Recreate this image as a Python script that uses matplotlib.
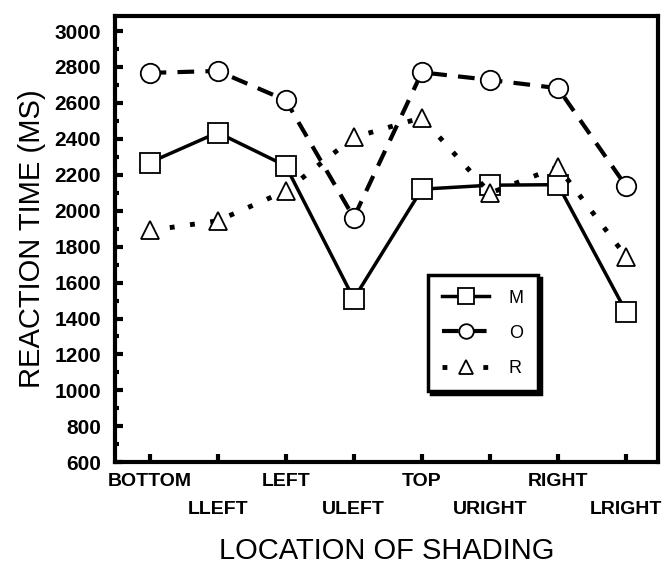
import numpy as np
import matplotlib
matplotlib.use("Agg")
import matplotlib.pyplot as plt
from matplotlib.ticker import MultipleLocator

plt.rcParams['font.family'] = ['Liberation Sans', 'DejaVu Sans']
narrow = ['Liberation Sans Narrow', 'Liberation Sans', 'DejaVu Sans']

# data
locations = ["BOTTOM", "LLEFT", "LEFT", "ULEFT", "TOP", "URIGHT", "RIGHT", "LRIGHT"]
m_times = [2268, 2435, 2250, 1510, 2120, 2142, 2145, 1438]
o_times = [2767, 2778, 2615, 1962, 2770, 2728, 2682, 2137]
r_times = [1890, 1944, 2110, 2408, 2518, 2098, 2244, 1745]

fig = plt.figure(figsize=(6.64, 5.70), dpi=100)
ax = fig.add_axes([0.173, 0.189, 0.818, 0.783])

x = np.arange(len(locations))

ax.plot(x, m_times, color='black', lw=2.5, ls='-', marker='s', ms=15,
        mfc='white', mec='black', mew=1.3, label='M')
ax.plot(x, o_times, color='black', lw=3, ls=(0, (4, 2.7)), marker='o', ms=14,
        mfc='white', mec='black', mew=1.3, label='O')
ax.plot(x, r_times, color='black', lw=3.5, ls=(0, (1, 3.2)), marker='^', ms=13,
        mfc='white', mec='black', mew=1.3, label='R')

ax.set_xlim(-0.51, 7.47)
ax.set_ylim(600, 3084)

ax.yaxis.set_major_locator(MultipleLocator(200))
ax.yaxis.set_minor_locator(MultipleLocator(100))
ax.set_xticks(x)
ax.set_xticklabels([lab if i % 2 == 0 else "\n" + lab for i, lab in enumerate(locations)],
                   fontsize=14, fontweight='bold', family=narrow, linespacing=1.8)
for t in ax.get_yticklabels():
    t.set_fontsize(15)
    t.set_fontweight('bold')
    t.set_family(narrow)

ax.tick_params(axis='both', which='major', direction='in', length=6, width=3)
ax.tick_params(axis='y', which='minor', direction='in', length=3, width=3)
ax.tick_params(axis='x', which='major', pad=8)
ax.tick_params(axis='y', which='major', pad=10)
for s in ax.spines.values():
    s.set_linewidth(3)

ax.set_ylabel("REACTION TIME (MS)", fontsize=21, labelpad=6)
ax.set_xlabel("LOCATION OF SHADING", fontsize=21, labelpad=14)

leg = ax.legend(loc='upper left', bbox_to_anchor=(0.576, 0.419), borderaxespad=0,
                frameon=True, fancybox=False, shadow={'color': 'black', 'alpha': 1.0},
                handlelength=2.6, handletextpad=1.1, labelspacing=1.0,
                borderpad=0.8, fontsize=13, markerscale=0.75)
leg.get_frame().set_linewidth(2.5)
leg.get_frame().set_edgecolor('black')

fig.savefig("out.png", dpi=100)
